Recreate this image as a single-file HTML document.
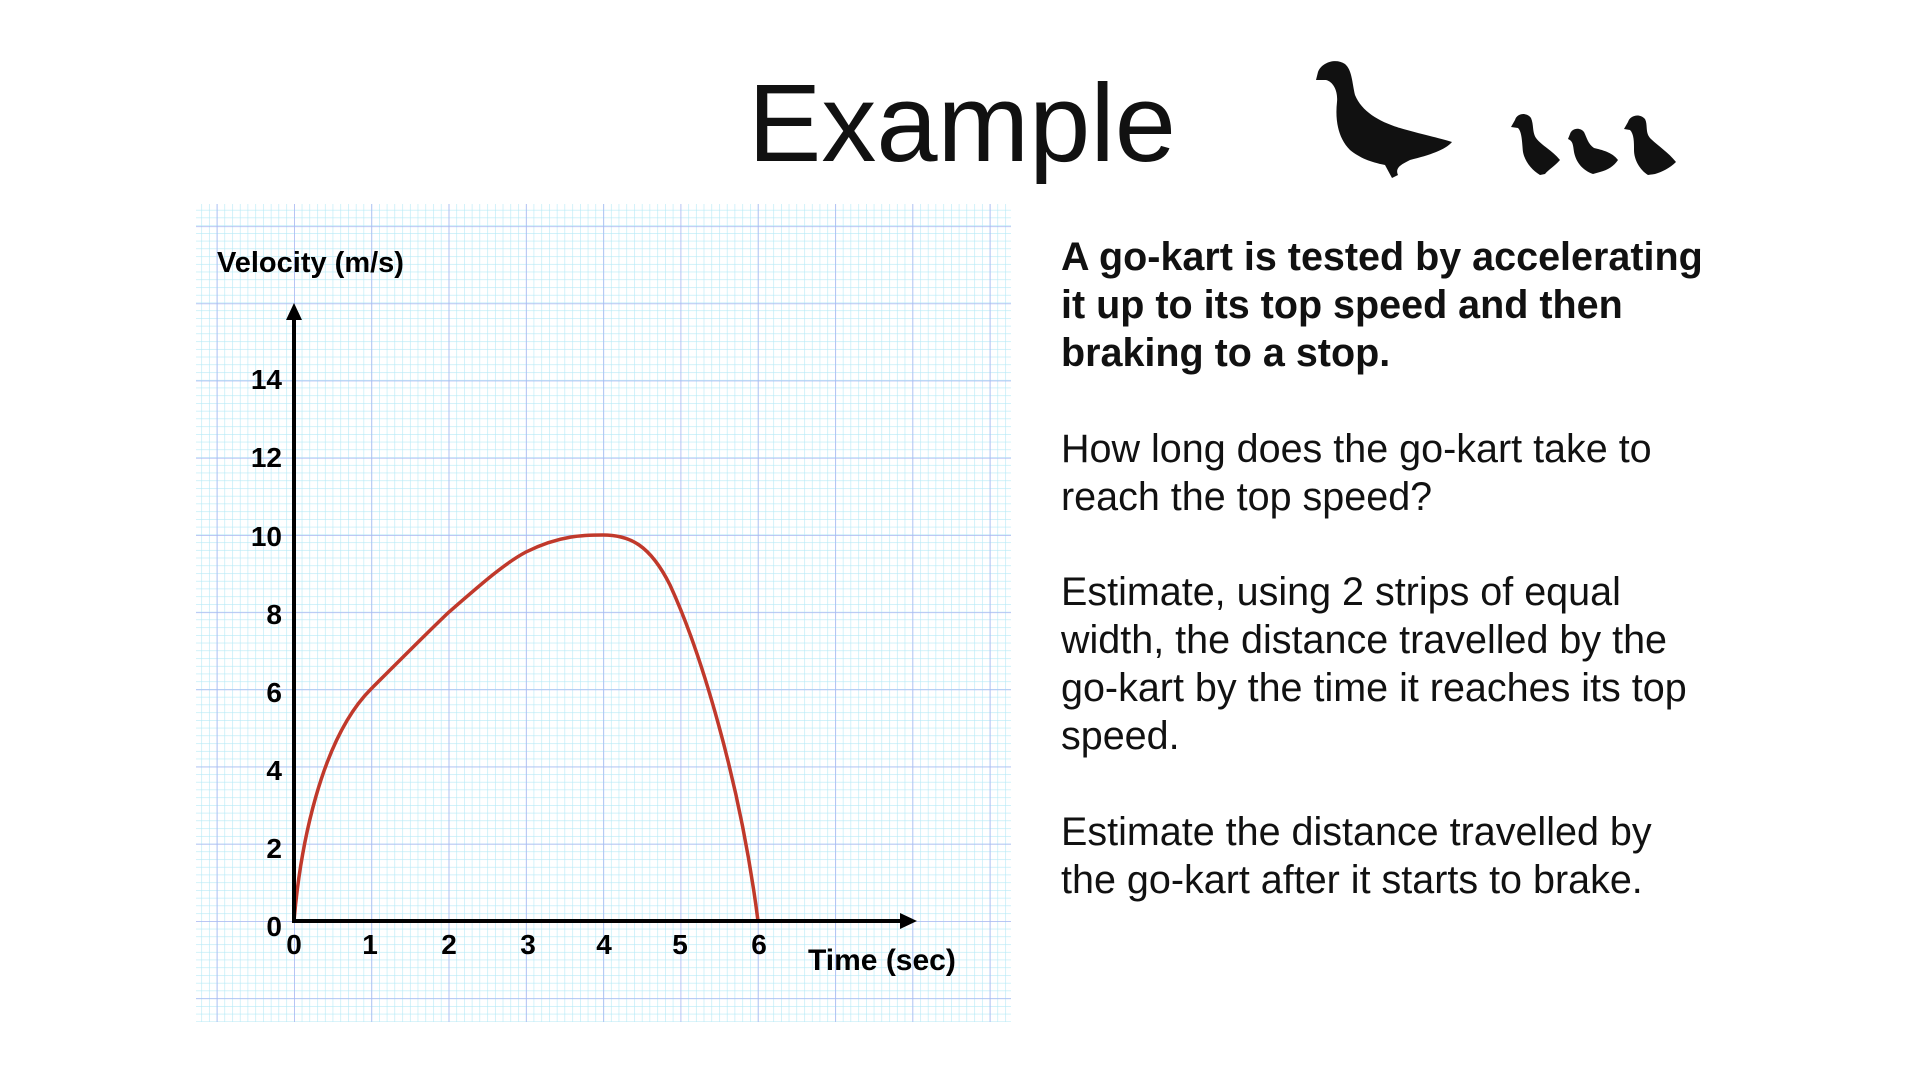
<!DOCTYPE html>
<html><head><meta charset="utf-8"><style>
body{margin:0;width:1920px;height:1080px;background:#fff;overflow:hidden;position:relative;font-family:"Liberation Sans",sans-serif}
.t{position:absolute;white-space:nowrap;color:#111}
</style></head><body>
<svg width="1920" height="1080" style="position:absolute;left:0;top:0">
<defs>
<pattern id="mn" patternUnits="userSpaceOnUse" x="294" y="921" width="7.73" height="7.73">
<path d="M0,0H7.73M0,0V7.73" stroke="#b5e9f6" stroke-width="1.2" fill="none"/>
</pattern>
<pattern id="mj" patternUnits="userSpaceOnUse" x="294" y="921" width="77.3" height="77.2">
<path d="M0,0H77.3M0,0V77.2" stroke="#a9b6f2" stroke-width="1.6" fill="none"/>
</pattern>
</defs>
<rect x="196" y="204" width="815" height="818" fill="#fff"/>
<rect x="196" y="204" width="815" height="818" fill="url(#mn)"/>
<rect x="196" y="204" width="815" height="818" fill="url(#mj)"/>
<path d="M294,921 C300,850 320,740 371,689 C410,650 430,630 449,612 C480,585 505,563 526,552 C560,535 585,535 603,535 C630,535 650,545 670,585 C700,650 740,780 758,921" stroke="#c0392b" stroke-width="3.5" fill="none"/>
<line x1="294" y1="923" x2="294" y2="318" stroke="#000" stroke-width="4"/>
<polygon points="294,303 286,320 302,320" fill="#000"/>
<line x1="292" y1="921" x2="902" y2="921" stroke="#000" stroke-width="4"/>
<polygon points="917,921 900,913 900,929" fill="#000"/>
<g font-family="Liberation Sans" font-weight="bold" font-size="28" fill="#000">
<g text-anchor="end">
<text x="282" y="936">0</text><text x="282" y="858">2</text><text x="282" y="780">4</text>
<text x="282" y="702">6</text><text x="282" y="624">8</text><text x="282" y="546">10</text>
<text x="282" y="467">12</text><text x="282" y="389">14</text></g>
<g text-anchor="middle">
<text x="294" y="954">0</text><text x="370" y="954">1</text><text x="449" y="954">2</text>
<text x="528" y="954">3</text><text x="604" y="954">4</text><text x="680" y="954">5</text><text x="759" y="954">6</text></g>
<text x="217" y="272" font-size="29">Velocity (m/s)</text>
<text x="808" y="970" font-size="30">Time (sec)</text>
</g>
<g fill="#111">
<path d="M1318,72 C1322,62 1336,58 1345,64 C1352,70 1352,82 1355,95 C1362,112 1380,122 1400,128 C1420,134 1440,138 1452,142 C1445,150 1430,155 1410,160 C1400,165 1395,168 1398,175 L1392,178 L1385,165 C1370,162 1360,158 1350,150 C1338,138 1335,120 1337,102 C1338,92 1334,82 1326,80 L1316,80 Z"/>
<path d="M1515,120 C1517,113 1527,112 1531,118 C1534,125 1532,132 1536,138 C1542,146 1552,150 1560,160 C1555,166 1548,170 1545,174 L1540,175 C1532,170 1525,162 1523,152 C1522,142 1522,132 1518,128 L1511,127 Z"/>
<path d="M1570,134 C1572,128 1580,127 1584,132 C1587,138 1588,144 1594,148 C1602,150 1612,152 1618,160 C1614,166 1608,170 1600,172 L1593,174 C1582,170 1576,162 1574,152 C1573,145 1573,141 1568,139 Z"/>
<path d="M1628,122 C1630,115 1640,113 1645,119 C1648,125 1645,132 1650,138 C1658,146 1668,152 1676,162 C1670,168 1662,172 1655,174 L1648,175 C1640,170 1634,160 1634,150 C1634,142 1634,134 1630,130 L1624,129 Z"/>
</g>
</svg>
<div class="t" style="left:748px;top:60px;font-size:110px;font-weight:300;color:#111">Example</div>
<div class="t" style="left:1061px;top:233px;font-size:39.5px;font-weight:bold;line-height:48px">A go-kart is tested by accelerating<br>it up to its top speed and then<br>braking to a stop.</div>
<div class="t" style="left:1061px;top:425px;font-size:39.5px;line-height:48px">How long does the go-kart take to<br>reach the top speed?</div>
<div class="t" style="left:1061px;top:568px;font-size:39.5px;line-height:48px">Estimate, using 2 strips of equal<br>width, the distance travelled by the<br>go-kart by the time it reaches its top<br>speed.</div>
<div class="t" style="left:1061px;top:808px;font-size:39.5px;line-height:48px">Estimate the distance travelled by<br>the go-kart after it starts to brake.</div>
</body></html>
